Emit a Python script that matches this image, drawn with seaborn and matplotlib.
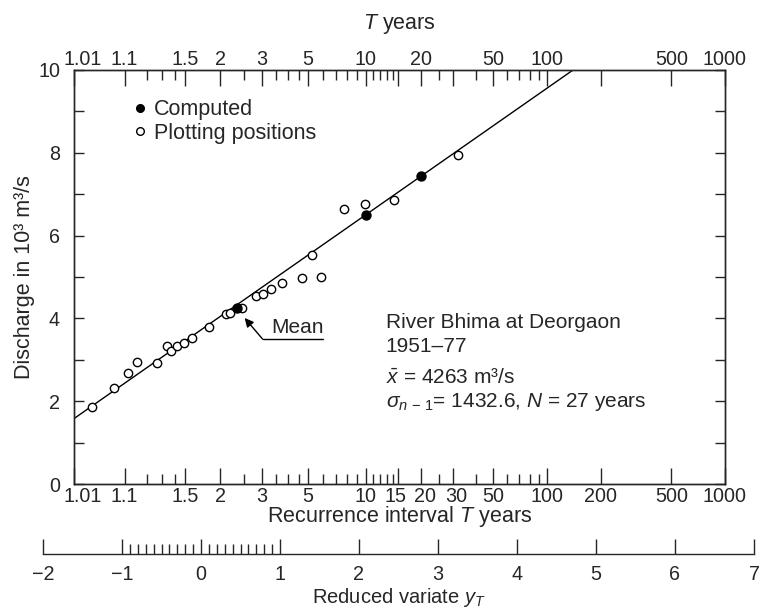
import numpy as np
import pandas as pd
import matplotlib
matplotlib.use("Agg")
import matplotlib.pyplot as plt
import matplotlib.transforms as mtransforms
import seaborn as sns
from matplotlib.lines import Line2D

# ---------------- data ----------------
plot_T = [1.026, 1.068, 1.111, 1.150, 1.259, 1.331, 1.364, 1.418, 1.490, 1.580,
          1.805, 2.10, 2.18, 2.455, 2.818, 3.043, 3.311, 3.751, 4.70, 5.23,
          5.85, 7.66, 9.95, 14.2, 32.1]
plot_Q = [1.87, 2.33, 2.69, 2.94, 2.92, 3.34, 3.21, 3.34, 3.41, 3.52,
          3.79, 4.11, 4.14, 4.24, 4.53, 4.59, 4.70, 4.85, 4.97, 5.54,
          5.01, 6.64, 6.76, 6.86, 7.95]
computed_T = [2.33, 10, 20]
computed_Q = [4.263, 6.50, 7.44]
line_T = [1.01, 140]
line_Q = [1.58, 10.0]

bottom_major = [1.01, 1.1, 1.5, 2, 3, 5, 10, 15, 20, 30, 50, 100, 200, 500, 1000]
bottom_labels = ["1.01", "1.1", "1.5", "2", "3", "5", "10", "15", "20", "30",
                 "50", "100", "200", "500", "1000"]
top_labels = ["1.01", "1.1", "1.5", "2", "3", "5", "10", "", "20", "",
              "50", "100", "", "500", "1000"]
minor_T = [1.2, 1.3, 1.4, 2.5, 3.5, 4, 4.5, 6, 7, 8, 9, 11, 12, 13, 14,
           25, 40, 60, 70, 80, 90]
y_ticks = [0, 2, 4, 6, 8, 10]
y_minor = [1, 3, 5, 7, 9]
red_major = [-2, -1, 0, 1, 2, 3, 4, 5, 6, 7]
red_minor = [-0.9, -0.8, -0.7, -0.6, -0.5, -0.4, -0.3, -0.2, -0.1,
             0.1, 0.2, 0.3, 0.4, 0.5, 0.6, 0.7, 0.8, 0.9]

# ---------------- style ----------------
sns.set_style("ticks")
plt.rcParams["font.family"] = ["Liberation Sans", "DejaVu Sans"]
plt.rcParams["mathtext.fontset"] = "custom"
plt.rcParams["mathtext.rm"] = "Liberation Sans"
plt.rcParams["mathtext.it"] = "Liberation Sans:italic"
plt.rcParams["mathtext.bf"] = "Liberation Sans:bold"
plt.rcParams["axes.linewidth"] = 1.0
FS_TICK = 14.2
FS_LAB = 15.5
FS_TXT = 15


def fwd(T):
    T = np.clip(np.asarray(T, dtype=float), 1.0000001, None)
    with np.errstate(all="ignore"):
        return -np.log(-np.log(1.0 - 1.0 / T))


def inv(y):
    y = np.asarray(y, dtype=float)
    with np.errstate(all="ignore"):
        return 1.0 / (1.0 - np.exp(-np.exp(-y)))


fig = plt.figure(figsize=(7.59, 6.08), dpi=100)
ax = fig.add_axes([74 / 759, 1 - 484 / 608, (725 - 74) / 759, (484 - 70) / 608])
ax.set_xscale("function", functions=(fwd, inv))
ax.set_xlim(1.01, 1000)
ax.set_ylim(0, 10)

df_pts = pd.DataFrame({"T": plot_T, "Q": plot_Q})
df_cmp = pd.DataFrame({"T": computed_T, "Q": computed_Q})
df_line = pd.DataFrame({"T": line_T, "Q": line_Q})

sns.lineplot(data=df_line, x="T", y="Q", ax=ax, color="black", lw=1.0)
sns.scatterplot(data=df_pts, x="T", y="Q", ax=ax, marker="o", s=36,
                facecolor="white", edgecolor="black", linewidth=1.0, zorder=3)
sns.scatterplot(data=df_cmp, x="T", y="Q", ax=ax, marker="o", s=42,
                color="black", edgecolor="black", linewidth=1.0, zorder=4)

ax.set_xticks(bottom_major)
ax.set_xticklabels(bottom_labels)
ax.set_xticks(minor_T, minor=True)
ax.set_xticklabels([], minor=True)
ax.set_yticks(y_ticks)
ax.set_yticklabels([str(v) for v in y_ticks])
ax.set_yticks(y_minor, minor=True)
ax.tick_params(axis="x", which="major", direction="in", length=11.5, width=1,
               pad=2, labelsize=FS_TICK, bottom=True, top=False)
ax.tick_params(axis="x", which="minor", direction="in", length=7.5, width=1,
               bottom=True, top=False)
ax.tick_params(axis="y", which="both", direction="in", length=7.5, width=1,
               pad=10, labelsize=FS_TICK, left=True, right=True)
ax.set_xlabel("Recurrence interval $T$ years", fontsize=FS_LAB, labelpad=-1)
ax.set_ylabel("Discharge in 10³ m³/s", fontsize=FS_LAB, labelpad=2)
for s in ax.spines.values():
    s.set_visible(True)
    s.set_linewidth(1.0)

# top axis
tx = ax.twiny()
tx.set_xscale("function", functions=(fwd, inv))
tx.set_xlim(1.01, 1000)
tx.set_xticks(bottom_major)
tx.set_xticklabels(top_labels)
tx.set_xticks(minor_T, minor=True)
tx.set_xticklabels([], minor=True)
tx.tick_params(axis="x", which="major", direction="in", length=11.5, width=1,
               pad=1, labelsize=FS_TICK, top=True, bottom=False)
tx.tick_params(axis="x", which="minor", direction="in", length=7.5, width=1,
               top=True, bottom=False)
tx.set_xlabel("$T$ years", fontsize=FS_LAB, labelpad=15)

# small horizontal nudges of crowded tick labels (points)
def nudge(labels, text, dx_pt):
    for lab in labels:
        if lab.get_text() == text:
            lab.set_transform(lab.get_transform() +
                              mtransforms.ScaledTranslation(dx_pt / 72, 0,
                                                            fig.dpi_scale_trans))

nudge(ax.get_xticklabels(), "1.01", 6)
nudge(tx.get_xticklabels(), "1.01", 6)
nudge(ax.get_xticklabels(), "15", -2)
nudge(ax.get_xticklabels(), "20", 2.5)
nudge(ax.get_xticklabels(), "30", 2)

# legend
handles = [Line2D([], [], ls="none", marker="o", ms=5.5, mfc="black", mec="black"),
           Line2D([], [], ls="none", marker="o", ms=5.5, mfc="white", mec="black", mew=1)]
ax.legend(handles, ["Computed", "Plotting positions"], loc="upper left",
          bbox_to_anchor=(0.0854, 0.929), frameon=False, fontsize=FS_LAB,
          handlelength=1.0, handletextpad=0.12, labelspacing=0.12,
          borderpad=0, borderaxespad=0)

# Mean annotation
ax.plot([3.03, 5.95], [3.50, 3.50], color="black", lw=1.0)
ax.annotate("", xy=(2.52, 4.01), xytext=(3.03, 3.50),
            arrowprops=dict(arrowstyle="-|>", color="black", lw=1.0,
                            shrinkA=0, shrinkB=0, mutation_scale=13))
ax.text(3.34, 3.79, "Mean", fontsize=FS_TXT, ha="left", va="center")

# station text block
tx0 = 0.479
ax.text(tx0, 0.391, "River Bhima at Deorgaon", transform=ax.transAxes,
        fontsize=FS_TXT, ha="left", va="center")
ax.text(tx0, 0.333, "1951–77", transform=ax.transAxes, fontsize=FS_TXT,
        ha="left", va="center")
ax.text(tx0, 0.258, r"$\bar{x}$ = 4263 m³/s", transform=ax.transAxes,
        fontsize=FS_TXT, ha="left", va="center")
ax.text(tx0, 0.198, r"$\sigma_{n\,-\,1}$= 1432.6, $N$ = 27 years",
        transform=ax.transAxes, fontsize=FS_TXT, ha="left", va="center")

# reduced variate axis
rx = fig.add_axes([43 / 759, 1 - 554 / 608, (754 - 43) / 759, 0.0001])
rx.set_xlim(-2, 7)
rx.set_ylim(0, 1)
rx.patch.set_visible(False)
for k in ["left", "right", "top"]:
    rx.spines[k].set_visible(False)
rx.spines["bottom"].set_linewidth(1.0)
rx.set_yticks([])
rx.set_xticks(red_major)
rx.set_xticks(red_minor, minor=True)
rx.tick_params(axis="x", which="major", direction="in", length=11, width=1,
               pad=8, labelsize=FS_TICK)
rx.tick_params(axis="x", which="minor", direction="in", length=7.5, width=1)
rx.set_xlabel("Reduced variate $y_T$", fontsize=14.5, labelpad=1.5)

fig.savefig("out.png", dpi=100)
